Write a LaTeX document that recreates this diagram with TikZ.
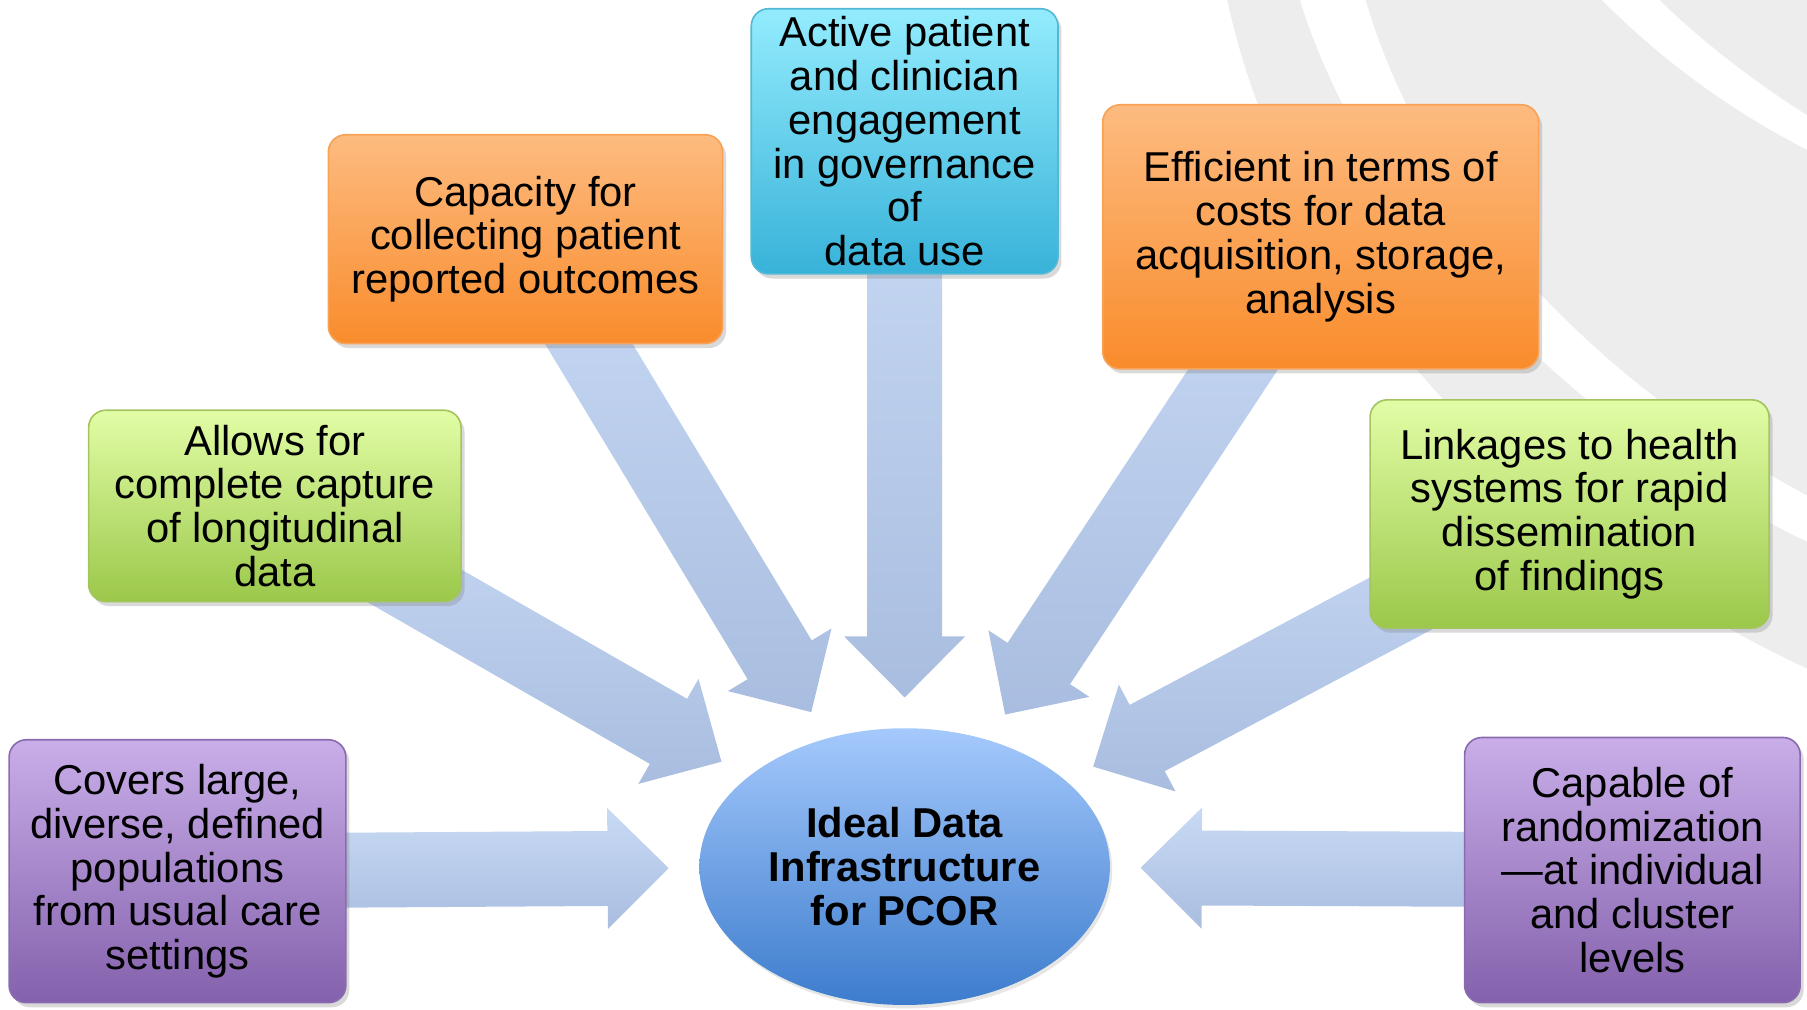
\documentclass[tikz,border=0pt]{standalone}
\usepackage{fontspec}
\setmainfont{Liberation Sans}
\usetikzlibrary{positioning,shapes,calc,shadows,backgrounds}

\definecolor{purptop}{HTML}{C9AEE9}
\definecolor{purpbot}{HTML}{8461AC}
\definecolor{purpline}{HTML}{8A6BB0}
\definecolor{greentop}{HTML}{E2FDA6}
\definecolor{greenbot}{HTML}{9BC84A}
\definecolor{greenline}{HTML}{A3C45E}
\definecolor{orangetop}{HTML}{FDBB80}
\definecolor{orangebot}{HTML}{F98C2C}
\definecolor{orangeline}{HTML}{F7A257}
\definecolor{cyantop}{HTML}{93ECFD}
\definecolor{cyanbot}{HTML}{38B2D9}
\definecolor{cyanline}{HTML}{52B8D6}
\definecolor{hubtop}{HTML}{A5C9FC}
\definecolor{hubbot}{HTML}{3C7CCD}
\definecolor{arrtop}{HTML}{C8DAF4}
\definecolor{arrbot}{HTML}{A9BDE0}

\begin{document}
\begin{tikzpicture}[x=0.01cm,y=-0.01cm,on grid,
    box/.style={rectangle,rounded corners=0.15cm,align=center,inner sep=0pt,
      font=\fontsize{10.3}{10.8}\selectfont,
      drop shadow={shadow xshift=0.03cm,shadow yshift=-0.04cm,opacity=0.3}},
    purplebox/.style={box,draw=purpline,top color=purptop,bottom color=purpbot},
    greenbox/.style={box,draw=greenline,top color=greentop,bottom color=greenbot},
    orangebox/.style={box,draw=orangeline,top color=orangetop,bottom color=orangebot},
    cyanbox/.style={box,draw=cyanline,top color=cyantop,bottom color=cyanbot},
    hub/.style={ellipse,draw=none,top color=hubtop,bottom color=hubbot,inner sep=0pt,
      font=\fontsize{10.3}{10.8}\selectfont\bfseries,align=center,
      drop shadow={shadow xshift=0.02cm,shadow yshift=-0.03cm,opacity=0.2}},
    fatarrow/.style={draw=none,top color=arrtop,bottom color=arrbot},
    swoosh/.style={fill=black!7,draw=none}]
  \useasboundingbox (0,0) rectangle (1568,876);

  \node[hub,minimum width=3.56cm,minimum height=2.4cm] (hub) at (785,752)
    {Ideal Data\\Infrastructure\\for PCOR};
  \node[cyanbox,minimum width=2.66cm,minimum height=2.3cm] (active) [above=6.29cm of hub]
    {Active patient\\and clinician\\engagement\\in governance\\of\\data use};
  \node[purplebox,minimum width=2.92cm,minimum height=2.28cm] (covers) at (154,756)
    {Covers large,\\diverse, defined\\populations\\from usual care\\settings};
  \node[greenbox,minimum width=3.23cm,minimum height=1.66cm] (allows) at (238.5,439)
    {Allows for\\complete capture\\of longitudinal\\data};
  \node[orangebox,minimum width=3.42cm,minimum height=1.81cm] (capacity) at (456,207.5)
    {Capacity for\\collecting patient\\reported outcomes};
  \node[orangebox,minimum width=3.78cm,minimum height=2.29cm] (efficient) at (1146,205.5)
    {Efficient in terms of\\costs for data\\acquisition, storage,\\analysis};
  \node[greenbox,minimum width=3.46cm,minimum height=1.98cm] (linkages) at (1362,446)
    {Linkages to health\\systems for rapid\\dissemination\\of findings};
  \node[purplebox,minimum width=2.91cm,minimum height=2.3cm] (capable) at (1416.5,755)
    {Capable of\\randomization\\---at individual\\and cluster\\levels};

  \begin{scope}[on background layer]
    % grey swooshes behind the right half
    \fill[swoosh] (1065,0) .. controls (1120,260) and (1350,480) .. (1568,580)
      -- (1568,0) -- cycle;
    \fill[white] (1128,0) .. controls (1190,200) and (1380,380) .. (1568,470)
      -- (1568,430) .. controls (1400,340) and (1240,190) .. (1185,0) -- cycle;
    \fill[white] (1390,0) .. controls (1450,60) and (1510,100) .. (1568,130)
      -- (1568,100) .. controls (1520,70) and (1470,30) .. (1440,0) -- cycle;
    % block arrows into the hub
    \foreach \src in {covers,allows,capacity,active,efficient,linkages,capable}{
      \path (\src) -- (hub) coordinate[pos=1] (e);
      \coordinate (tip) at ($(e)!0.26cm!(\src)$);
      \coordinate (base) at ($(tip)!0.53cm!(\src)$);
      \path[fatarrow] ($(\src)!0.325cm!90:(tip)$) -- ($(base)!0.325cm!90:(tip)$)
        -- ($(base)!0.525cm!90:(tip)$) -- (tip) -- ($(base)!0.525cm!-90:(tip)$)
        -- ($(base)!0.325cm!-90:(tip)$) -- ($(\src)!0.325cm!-90:(tip)$) -- cycle;
    }
  \end{scope}
\end{tikzpicture}
\end{document}
